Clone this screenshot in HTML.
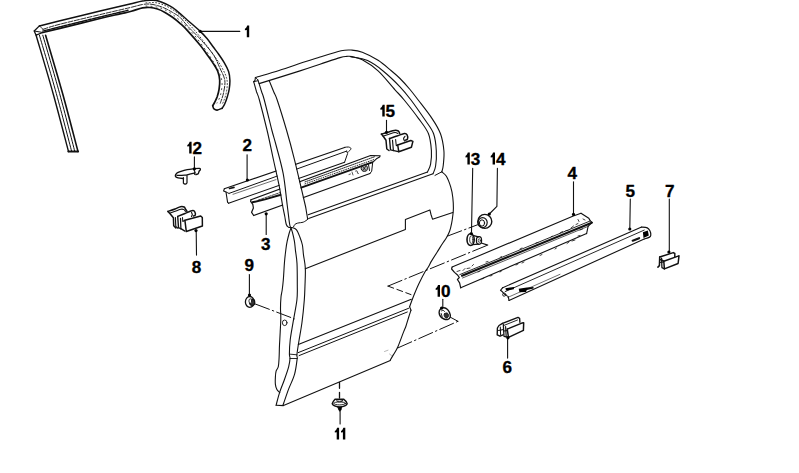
<!DOCTYPE html>
<html><head><meta charset="utf-8"><style>
html,body{margin:0;padding:0;background:#fff;width:799px;height:473px;overflow:hidden}
svg{position:absolute;left:0;top:0}
</style></head><body>
<svg width="799" height="473" viewBox="0 0 799 473">
<defs><mask id="pm" maskUnits="userSpaceOnUse" x="0" y="0" width="799" height="473"><rect x="0" y="0" width="799" height="473" fill="#fff"/><path d="M260.0,100.0 L267.6,130.0 L274.1,160.0 L279.6,185.0 L283.1,205.0 L285.3,216.0 L286.9,224.5 L307.1,219.3 L305.7,211.0 L304.6,205.0 L299.9,185.0 L293.8,159.3 L285.9,130.0 L276.6,100.0Z" fill="#000"/></mask></defs>
<g stroke="#111" stroke-linecap="round" stroke-linejoin="round" fill="none">
<path d="M39.4,25.9C42.8,25.0 49.9,23.3 60.0,20.8C70.1,18.3 88.3,13.8 100.0,11.0C111.7,8.2 122.9,5.7 130.0,4.0C137.1,2.3 139.2,1.7 142.5,1.1C145.8,0.5 147.8,0.4 150.0,0.3C152.2,0.2 154.1,0.1 156.0,0.4C157.9,0.7 159.2,1.2 161.3,2.0C163.4,2.8 166.3,4.0 168.8,5.4C171.3,6.8 173.2,7.8 176.3,10.3C179.4,12.8 183.6,16.8 187.5,20.2C191.4,23.6 196.4,27.8 199.7,30.9C202.9,33.9 204.8,35.9 207.0,38.5C209.2,41.1 211.2,44.2 213.1,46.8C215.0,49.4 216.7,51.4 218.5,54.0C220.3,56.6 222.5,59.7 224.2,62.6C225.9,65.5 227.6,68.5 228.6,71.5C229.6,74.5 229.8,77.3 229.9,80.3C230.0,83.2 229.6,86.5 229.2,89.2C228.8,92.0 228.0,94.4 227.3,96.8C226.6,99.2 225.7,101.9 224.8,103.8C224.0,105.7 222.6,107.5 222.2,108.2" stroke-width="1.5" fill="none" />
<path d="M42.8,32.5C45.7,31.8 50.5,30.6 60.0,28.3C69.5,26.0 90.0,20.9 100.0,18.5C110.0,16.1 114.8,15.1 120.0,13.9C125.2,12.7 127.6,12.3 131.3,11.3C135.1,10.3 139.4,8.5 142.5,7.9C145.6,7.3 147.5,7.3 150.0,7.5C152.5,7.7 155.0,8.2 157.5,9.0C160.0,9.8 162.5,11.0 165.0,12.4C167.5,13.8 170.0,15.5 172.5,17.3C175.0,19.1 177.5,21.1 180.0,23.3C182.5,25.6 184.3,27.1 187.7,30.8C191.1,34.5 197.2,41.5 200.4,45.5C203.6,49.5 204.9,51.6 207.0,54.5C209.1,57.4 210.9,59.8 212.7,62.6C214.5,65.4 216.6,68.5 217.8,71.5C219.0,74.5 219.5,77.3 219.7,80.3C219.9,83.2 219.5,86.5 219.1,89.2C218.7,92.0 217.9,94.6 217.2,96.8C216.4,99.0 215.3,101.0 214.6,102.5C213.8,104.0 213.0,105.2 212.7,105.7" stroke-width="1.7" fill="none" />
<path d="M43.1,29.3C45.9,28.4 50.5,26.6 60.0,24.2C69.5,21.8 88.3,17.4 100.0,14.6C111.7,11.8 122.9,9.3 130.0,7.6C137.1,5.9 139.2,5.1 142.5,4.5C145.8,3.9 147.5,3.9 150.0,4.1C152.5,4.3 155.0,4.9 157.5,5.6C160.0,6.3 162.5,7.2 165.0,8.3C167.5,9.4 170.0,10.9 172.5,12.4C175.0,13.9 177.5,15.0 180.0,17.3C182.5,19.6 184.3,22.5 187.7,26.2C191.1,29.9 196.2,34.5 200.4,39.2C204.6,43.9 209.9,49.6 213.1,54.4C216.3,59.1 217.8,63.4 219.7,67.7C221.6,72.0 224.2,76.1 224.8,80.3C225.4,84.5 224.2,89.2 223.5,93.0C222.8,96.8 220.8,101.5 220.3,103.2" stroke-width="0.9" fill="none" stroke-dasharray="5,1.5"/>
<path d="M44.0,30.8 L60.0,26.8 L100.0,17.0 L128.0,10.3" stroke-width="1.4" fill="none" stroke-dasharray="2.5,1"/>
<path d="M146.0,6.0C147.9,6.2 153.8,6.3 157.5,7.2C161.2,8.1 164.2,9.3 168.0,11.5C171.8,13.7 175.5,16.4 180.0,20.5C184.5,24.6 190.2,30.2 195.0,36.0C199.8,41.8 205.2,49.3 209.0,55.0C212.8,60.7 215.8,65.5 218.0,70.0C220.2,74.5 221.6,77.8 222.0,82.0C222.4,86.2 221.3,91.5 220.5,95.0C219.7,98.5 217.6,101.7 217.0,103.0" stroke-width="0.8" fill="none" stroke-dasharray="1,4"/>
<path d="M146.0,2.8C147.9,2.8 153.5,2.1 157.5,3.0C161.5,3.9 165.9,5.7 170.0,8.0C174.1,10.3 177.7,13.0 182.0,17.0C186.3,21.0 191.3,26.5 196.0,32.0C200.7,37.5 205.8,44.3 210.0,50.0C214.2,55.7 218.2,61.0 221.0,66.0C223.8,71.0 226.2,75.3 227.0,80.0C227.8,84.7 226.8,90.0 226.0,94.0C225.2,98.0 223.1,102.3 222.5,104.0" stroke-width="0.8" fill="none" stroke-dasharray="1,2.2"/>
<path d="M222.2,108.2C221.4,108.5 218.6,110.0 217.2,110.1C215.8,110.2 214.8,109.6 214.0,108.9C213.2,108.2 212.9,106.2 212.7,105.7" stroke-width="1.6" fill="none" />
<path d="M39.4,25.9 L34.2,31.0 L36.1,35.2 L42.8,32.5" stroke-width="1.3" fill="none" />
<path d="M34.2,31.0 L42.8,32.5" stroke-width="1.0" fill="none" />
<path d="M39.4,25.9 L43.1,29.3 L42.8,32.5" stroke-width="0.8" fill="none" />
<path d="M36.1,35.2C38.9,44.9 47.7,74.1 53.1,93.5C58.5,112.9 65.9,141.8 68.5,151.5" stroke-width="1.4" fill="none" />
<path d="M39.4,35.2C42.2,44.9 51.0,74.1 56.3,93.5C61.7,112.9 69.1,141.8 71.7,151.5" stroke-width="1.0" fill="none" />
<path d="M42.8,35.2C45.6,44.9 54.3,74.1 59.6,93.5C64.9,112.9 72.3,141.8 74.8,151.5" stroke-width="1.0" fill="none" />
<path d="M45.6,35.2C48.4,44.9 57.2,74.1 62.6,93.5C68.0,112.9 75.4,141.8 78.0,151.5" stroke-width="1.6" fill="none" />
<path d="M68.5,151.5 L78.0,151.5" stroke-width="2.2" fill="none" />
<path d="M255.4,77.5C259.3,76.3 270.7,73.1 279.0,70.5C287.3,67.9 298.2,64.0 305.0,61.8C311.8,59.5 314.0,58.9 320.0,57.0C326.0,55.1 335.8,51.9 341.1,50.7C346.4,49.6 348.2,49.8 351.7,50.1C355.2,50.4 357.9,50.6 362.3,52.3C366.7,54.0 373.3,57.3 378.1,60.3C382.9,63.3 387.4,67.5 391.0,70.5C394.6,73.5 396.8,75.3 400.0,78.5C403.2,81.7 406.9,85.8 410.0,89.5C413.1,93.2 414.9,95.7 418.6,100.5C422.3,105.3 428.5,113.0 432.1,118.6C435.8,124.1 438.5,128.5 440.5,133.8C442.5,139.2 443.4,145.5 443.9,150.7C444.4,155.9 443.6,161.5 443.3,165.0C443.0,168.5 442.1,170.7 441.8,171.8" stroke-width="1.1" fill="none" />
<path d="M350.7,56.8C353.5,57.4 362.2,58.2 367.6,60.6C373.1,63.0 378.0,66.8 383.4,71.2C388.8,75.6 395.4,82.0 400.0,86.8C404.6,91.6 406.8,94.4 411.0,100.0C415.2,105.6 421.5,114.7 425.3,120.3C429.1,125.9 431.8,128.7 433.6,133.8C435.4,138.9 436.0,145.3 436.3,150.7C436.6,156.1 436.2,162.2 435.6,166.0C435.1,169.8 433.4,172.5 433.0,173.8" stroke-width="1.1" fill="none" />
<path d="M259.1,83.6C265.9,81.5 289.9,74.1 300.0,70.9C310.1,67.7 313.3,66.4 320.0,64.2C326.7,62.0 335.5,58.9 340.0,57.6C344.5,56.3 345.0,56.6 347.0,56.4C349.0,56.2 349.4,56.0 352.0,56.6C354.6,57.2 357.9,57.4 362.3,59.8C366.7,62.2 372.7,65.9 378.1,70.9C383.6,75.9 390.6,85.0 395.0,89.8C399.4,94.6 400.3,95.2 404.2,100.0C408.1,104.8 414.6,113.0 418.6,118.6C422.7,124.2 426.4,128.5 428.5,133.8C430.6,139.2 431.0,145.6 431.4,150.7C431.8,155.8 431.2,160.6 430.6,164.2C430.0,167.8 428.0,170.7 427.5,172.0" stroke-width="1.1" fill="none" />
<path d="M441.8,171.8 L435.0,175.4" stroke-width="1.0" fill="none" />
<path d="M427.5,172.0 L308.2,214.8" stroke-width="1.1" fill="none" />
<path d="M433.0,173.8 L308.6,218.4" stroke-width="1.1" fill="none" />
<path d="M253.7,81.7C254.2,83.4 255.7,89.0 256.6,92.0C257.6,95.0 257.7,93.7 259.4,100.0C261.1,106.3 264.6,120.0 267.0,130.0C269.4,140.0 271.5,150.8 273.5,160.0C275.5,169.2 277.5,177.5 279.0,185.0C280.5,192.5 281.6,199.8 282.5,205.0C283.4,210.2 284.1,212.8 284.7,216.0C285.3,219.2 285.7,222.6 286.3,224.5C286.9,226.4 287.6,226.7 288.5,227.2C289.4,227.7 290.7,227.2 292.0,227.6C293.3,228.0 295.0,228.2 296.3,229.7C297.6,231.2 298.6,233.8 299.6,236.4C300.6,239.0 301.8,241.9 302.4,245.0C303.0,248.1 303.0,251.2 303.5,255.0C304.0,258.8 305.1,263.0 305.3,268.0C305.6,273.0 305.2,279.7 305.0,285.0C304.8,290.3 304.8,293.8 304.3,300.0C303.8,306.2 302.9,315.5 302.0,322.2C301.1,328.9 300.0,334.6 299.1,340.0C298.2,345.4 297.2,351.7 296.9,354.8C296.6,357.9 297.6,355.3 297.2,358.5C296.8,361.7 296.0,369.0 294.6,374.1C293.2,379.2 290.6,384.0 288.7,388.9C286.8,393.8 284.5,401.0 283.5,403.7C282.5,406.4 282.9,405.0 282.8,405.3" stroke-width="1.1" fill="none" />
<path d="M257.9,79.9C258.1,80.5 258.5,81.6 259.1,83.6C259.7,85.6 260.8,89.3 261.7,92.0C262.6,94.7 262.6,93.7 264.3,100.0C266.0,106.3 269.9,122.5 271.8,130.0C273.8,137.5 274.1,137.7 276.0,145.0C277.9,152.3 281.3,163.7 283.2,173.7C285.1,183.7 286.1,196.6 287.2,205.0C288.3,213.4 289.0,220.2 289.6,224.0C290.2,227.8 290.3,226.1 290.8,227.5C291.3,228.9 291.9,230.3 292.5,232.6C293.1,234.9 293.9,238.3 294.4,241.2C294.9,244.1 295.0,246.3 295.4,250.0C295.8,253.7 296.7,257.6 297.0,263.4C297.3,269.2 297.3,278.9 297.3,285.0C297.3,291.1 297.6,293.8 296.9,300.0C296.2,306.2 294.2,315.5 293.1,322.2C292.0,328.9 290.8,334.7 290.2,340.0C289.6,345.3 289.4,351.0 289.4,354.1C289.4,357.2 290.1,356.4 290.0,358.5C289.9,360.6 289.6,363.1 288.7,366.7C287.8,370.3 285.8,375.8 284.3,380.0C282.8,384.2 281.2,387.7 279.8,391.9C278.4,396.1 276.7,403.0 276.1,405.2" stroke-width="1.1" fill="none" />
<path d="M269.2,80.6C270.0,82.5 272.5,88.8 273.8,92.0C275.1,95.2 275.1,93.7 277.2,100.0C279.3,106.3 283.6,120.1 286.5,130.0C289.4,139.9 292.1,150.1 294.4,159.3C296.7,168.5 298.7,177.4 300.5,185.0C302.3,192.6 304.2,200.7 305.2,205.0C306.2,209.3 305.9,208.6 306.3,211.0C306.7,213.4 307.5,217.9 307.7,219.3" stroke-width="1.1" fill="none" />
<path d="M307.7,219.3C307.0,219.8 305.1,221.5 303.4,222.1C301.7,222.7 299.1,222.7 297.7,223.1C296.3,223.5 295.5,223.9 294.8,224.5C294.1,225.1 293.8,226.4 293.6,226.8" stroke-width="1.0" fill="none" />
<path d="M255.4,77.5 L255.0,80.3 L253.7,81.7" stroke-width="1.1" fill="none" />
<path d="M253.7,81.7 L257.5,80.8" stroke-width="1.0" fill="none" />
<path d="M255.4,77.5 L257.9,79.9" stroke-width="0.9" fill="none" />
<path d="M291.0,227.8C290.7,228.8 289.7,231.3 289.1,233.5C288.5,235.7 287.8,238.4 287.2,241.2C286.6,243.9 286.2,246.5 285.8,250.0C285.4,253.5 284.9,257.0 284.5,262.0C284.1,267.0 283.7,275.3 283.3,280.0C282.9,284.7 282.6,287.2 282.2,290.0C281.8,292.8 281.3,293.9 281.0,297.0C280.7,300.1 280.5,305.3 280.5,308.8C280.5,312.3 280.9,314.1 280.8,318.0C280.8,321.9 280.4,327.5 280.2,332.0C280.0,336.5 279.7,340.7 279.5,345.0C279.3,349.3 279.3,354.2 279.1,357.8C278.9,361.4 278.8,364.5 278.3,366.7C277.8,368.9 276.6,369.4 276.1,371.1C275.6,372.8 275.5,374.8 275.4,377.0C275.3,379.2 275.1,382.3 275.4,384.4C275.6,386.5 276.2,388.2 276.9,389.6C277.6,391.0 279.3,392.1 279.8,392.6" stroke-width="1.1" fill="none" />
<path d="M276.1,405.2 L283.5,405.6 L390.3,360.4" stroke-width="1.1" fill="none" />
<path d="M441.8,171.8C442.6,172.6 444.9,173.8 446.4,176.3C447.9,178.8 449.6,183.4 450.7,186.9C451.8,190.4 452.4,194.0 452.8,197.5C453.2,201.0 453.4,205.0 453.4,208.0C453.4,211.0 453.1,213.0 452.8,215.5C452.5,218.0 452.2,220.3 451.7,222.9C451.2,225.5 450.5,228.8 449.6,231.3C448.7,233.8 447.6,235.6 446.4,237.7C445.2,239.8 443.8,241.5 442.2,244.0C440.6,246.5 438.7,249.7 436.9,252.5C435.1,255.3 433.1,258.4 431.6,260.9C430.1,263.4 429.1,265.7 428.0,267.5C426.9,269.3 426.7,268.9 425.2,271.5C423.7,274.1 421.0,279.3 419.1,283.2C417.2,287.1 415.6,291.1 414.0,295.0C412.4,298.9 410.3,304.8 409.6,306.8" stroke-width="1.1" fill="none" />
<path d="M409.6,306.8 L411.0,310.2" stroke-width="1.1" fill="none" />
<path d="M411.0,310.2C410.6,311.4 409.4,314.9 408.6,317.5C407.8,320.1 406.8,323.6 406.0,326.0C405.2,328.4 405.1,328.2 403.7,331.6C402.3,335.1 399.6,342.8 397.9,346.7C396.2,350.6 394.6,352.7 393.3,354.9C392.0,357.1 390.8,359.2 390.3,360.1" stroke-width="1.1" fill="none" />
<path d="M305.3,268.7 L405.4,229.4 L405.4,219.4 L429.9,209.9 L431.0,214.5 L432.5,219.2 L452.8,212.5" stroke-width="1.1" fill="none" />
<path d="M298.3,344.4 L411.3,299.2" stroke-width="1.1" fill="none" />
<path d="M298.3,352.6 L408.6,308.3" stroke-width="1.0" fill="none" />
<path d="M299.1,355.6 L407.3,312.0" stroke-width="1.0" fill="none" />
<path d="M289.4,354.1 L296.9,354.8" stroke-width="0.9" fill="none" />
<path d="M290.0,358.5 L297.2,358.5" stroke-width="0.9" fill="none" />
<ellipse cx="284.7" cy="322.8" rx="2.3" ry="2.8" stroke-width="0.9"/>
<path d="M244.90,28.70 C246.10,28.00 246.80,27.00 247.20,25.40 L249.20,25.40 L249.20,37.20 L246.80,37.20 L246.80,30.00 L244.90,30.30 Z" fill="#000" stroke="none"/>
<text transform="translate(242.50,151.00) scale(1.07,1)" stroke="#000" stroke-width="0.3" fill="#000" font-family="Liberation Sans" font-weight="bold" font-size="16">2</text>
<text transform="translate(261.00,249.90) scale(1.07,1)" stroke="#000" stroke-width="0.3" fill="#000" font-family="Liberation Sans" font-weight="bold" font-size="16">3</text>
<text transform="translate(567.60,178.80) scale(1.07,1)" stroke="#000" stroke-width="0.3" fill="#000" font-family="Liberation Sans" font-weight="bold" font-size="16">4</text>
<text transform="translate(625.60,196.60) scale(1.07,1)" stroke="#000" stroke-width="0.3" fill="#000" font-family="Liberation Sans" font-weight="bold" font-size="16">5</text>
<text transform="translate(502.60,373.40) scale(1.07,1)" stroke="#000" stroke-width="0.3" fill="#000" font-family="Liberation Sans" font-weight="bold" font-size="16">6</text>
<text transform="translate(664.90,196.60) scale(1.07,1)" stroke="#000" stroke-width="0.3" fill="#000" font-family="Liberation Sans" font-weight="bold" font-size="16">7</text>
<text transform="translate(191.80,272.60) scale(1.07,1)" stroke="#000" stroke-width="0.3" fill="#000" font-family="Liberation Sans" font-weight="bold" font-size="16">8</text>
<text transform="translate(244.60,271.20) scale(1.07,1)" stroke="#000" stroke-width="0.3" fill="#000" font-family="Liberation Sans" font-weight="bold" font-size="16">9</text>
<path d="M435.70,288.30 C436.90,287.60 437.60,286.60 438.00,285.00 L440.00,285.00 L440.00,296.80 L437.60,296.80 L437.60,289.60 L435.70,289.90 Z" fill="#000" stroke="none"/>
<text transform="translate(440.90,297.20) scale(1.07,1)" stroke="#000" stroke-width="0.3" fill="#000" font-family="Liberation Sans" font-weight="bold" font-size="16">0</text>
<path d="M334.80,431.00 C336.00,430.30 336.70,429.30 337.10,427.70 L339.10,427.70 L339.10,439.50 L336.70,439.50 L336.70,432.30 L334.80,432.60 Z" fill="#000" stroke="none"/>
<path d="M341.00,431.00 C342.20,430.30 342.90,429.30 343.30,427.70 L345.30,427.70 L345.30,439.50 L342.90,439.50 L342.90,432.30 L341.00,432.60 Z" fill="#000" stroke="none"/>
<path d="M187.30,145.00 C188.50,144.30 189.20,143.30 189.60,141.70 L191.60,141.70 L191.60,153.50 L189.20,153.50 L189.20,146.30 L187.30,146.60 Z" fill="#000" stroke="none"/>
<text transform="translate(192.50,153.90) scale(1.07,1)" stroke="#000" stroke-width="0.3" fill="#000" font-family="Liberation Sans" font-weight="bold" font-size="16">2</text>
<path d="M465.50,155.90 C466.70,155.20 467.40,154.20 467.80,152.60 L469.80,152.60 L469.80,164.40 L467.40,164.40 L467.40,157.20 L465.50,157.50 Z" fill="#000" stroke="none"/>
<text transform="translate(470.70,164.80) scale(1.07,1)" stroke="#000" stroke-width="0.3" fill="#000" font-family="Liberation Sans" font-weight="bold" font-size="16">3</text>
<path d="M490.70,155.90 C491.90,155.20 492.60,154.20 493.00,152.60 L495.00,152.60 L495.00,164.40 L492.60,164.40 L492.60,157.20 L490.70,157.50 Z" fill="#000" stroke="none"/>
<text transform="translate(495.90,164.80) scale(1.07,1)" stroke="#000" stroke-width="0.3" fill="#000" font-family="Liberation Sans" font-weight="bold" font-size="16">4</text>
<path d="M380.40,108.10 C381.60,107.40 382.30,106.40 382.70,104.80 L384.70,104.80 L384.70,116.60 L382.30,116.60 L382.30,109.40 L380.40,109.70 Z" fill="#000" stroke="none"/>
<text transform="translate(385.60,117.00) scale(1.07,1)" stroke="#000" stroke-width="0.3" fill="#000" font-family="Liberation Sans" font-weight="bold" font-size="16">5</text>
<path d="M199.3,31.4 L239.8,31.4" stroke-width="1.1" fill="none" />
<path d="M247.1,154.7 L247.1,180.2" stroke-width="1.1" fill="none" />
<path d="M266.2,213.5 L266.2,234.5" stroke-width="1.1" fill="none" />
<path d="M573.5,181.7 L573.5,214.3" stroke-width="1.1" fill="none" />
<path d="M630.3,199.0 L629.8,229.3" stroke-width="1.1" fill="none" />
<path d="M507.6,337.1 L507.6,358.1" stroke-width="1.1" fill="none" />
<path d="M669.3,199.0 L669.3,251.4" stroke-width="1.1" fill="none" />
<path d="M196.2,230.9 L196.5,255.1" stroke-width="1.1" fill="none" />
<path d="M249.4,274.5 L249.4,295.5" stroke-width="1.1" fill="none" />
<path d="M442.8,299.2 L442.8,308.1" stroke-width="1.1" fill="none" />
<path d="M340.1,408.9 L340.1,424.0" stroke-width="1.1" fill="none" />
<path d="M194.4,156.9 L194.4,168.6" stroke-width="1.1" fill="none" />
<path d="M472.7,168.2 L471.5,231.8" stroke-width="1.1" fill="none" />
<path d="M497.4,168.2 L496.9,206.4 L489.3,214.0" stroke-width="1.1" fill="none" />
<path d="M386.5,120.4 L386.5,132.1" stroke-width="1.1" fill="none" />
<g mask="url(#pm)">
<path d="M224.3,188.8 L344.6,147.4" stroke-width="1.1" fill="none" />
<path d="M229.0,193.4 L346.7,151.1" stroke-width="1.0" fill="none" />
<path d="M233.0,194.3 L276.0,179.6" stroke-width="0.6" fill="none" />
<path d="M228.6,203.2 L344.6,162.2" stroke-width="1.1" fill="none" />
<path d="M224.3,188.8 L223.6,191.0 L226.0,192.0 L226.6,196.0 L227.6,202.3 L228.6,203.2" stroke-width="1.1" fill="none" />
<path d="M226.0,192.0 L229.0,193.4" stroke-width="0.9" fill="none" />
<path d="M229.5,188.5 L234.0,187.4" stroke-width="1.6" fill="none" />
<path d="M344.6,147.4C345.2,147.3 347.4,146.8 348.5,147.0C349.6,147.2 351.1,147.9 351.0,148.8C350.9,149.7 348.5,151.6 348.0,152.2" stroke-width="1.0" fill="none" />
<path d="M346.7,151.1 L347.6,153.5 L344.6,162.2" stroke-width="1.0" fill="none" />
<path d="M251.0,199.7 L370.6,155.6 L380.2,155.8 L379.6,157.1 L376.4,158.8 L372.4,162.6" stroke-width="1.1" fill="none" />
<path d="M252.5,202.3 L265.0,199.4 L280.0,195.0 L304.0,186.6 L372.1,162.4" stroke-width="2.0" fill="none" />
<path d="M258.0,200.2 L280.0,192.6" stroke-width="0.8" fill="none" stroke-dasharray="2.5,1.2"/>
<path d="M305.0,181.9 L375.0,156.6" stroke-width="0.9" fill="none" stroke-dasharray="1.2,1"/>
<path d="M305.0,183.9 L375.0,159.2" stroke-width="0.9" fill="none" stroke-dasharray="0.8,1.6"/>
<path d="M253.7,215.5 L370.0,173.4" stroke-width="1.1" fill="none" />
<path d="M372.6,163.2 L371.7,171.2 L370.0,173.4" stroke-width="1.0" fill="none" />
<path d="M251.0,199.7 L250.6,201.3 L252.8,204.3 L253.4,208.0 L251.6,212.3 L253.7,215.5" stroke-width="1.2" fill="none" />
<path d="M349,174.5 l1.5,-0.5 M352,172 l1,3 M355.5,171 q2,-1 2,1 q-1,1.5 1,1.5" stroke-width="0.7" fill="none" />
<path d="M362.0,166.5C362.7,165.9 364.6,165.0 365.5,165.2C366.4,165.4 367.3,166.6 367.5,167.5C367.7,168.4 367.2,170.2 366.5,170.8C365.8,171.4 363.9,171.5 363.0,171.2C362.1,170.9 361.4,169.8 361.2,169.0C361.0,168.2 361.3,167.1 362.0,166.5Z" stroke-width="1.0" fill="#aaa" />
<path d="M363,166.5 l2.5,3.5 M366,166 l-3,4" stroke-width="0.8" fill="none" />
<path d="M368.5,164.5 L369.5,170.5" stroke-width="1.0" fill="none" />
</g>
<path d="M452.1,267.1 L573.3,216.0 L581.0,213.3" stroke-width="1.1" fill="none" />
<path d="M581.0,213.3 L588.8,218.3 L590.3,220.9 L592.2,222.4" stroke-width="1.2" fill="none" />
<path d="M459.8,274.6 L590.3,220.9" stroke-width="0.9" fill="none" />
<path d="M462.0,275.8 L591.8,222.7" stroke-width="2.0" fill="none" />
<path d="M462.5,278.0 L588.5,226.2" stroke-width="0.7" fill="none" />
<path d="M460.7,287.8 L586.6,233.6" stroke-width="1.1" fill="none" />
<path d="M591.8,222.7 L588.1,226.4 L586.6,233.6" stroke-width="1.1" fill="none" />
<path d="M452.1,267.1 L451.6,269.0 L454.5,272.4 L457.8,275.2 L459.3,277.6 L457.4,279.5 L459.6,282.8 L460.7,287.8" stroke-width="1.2" fill="none" />
<path d="M457,271.5 l3,-1 M463,270.5 l2,-2 M467,268.5 l3,-0.5 M472,266 l1.5,-1.5 M478,272 l2,-1 M486,262 l2,-0.5 M500,257.5 l1.5,-1 M520,249 l2,-1 M536,243 l2,-0.5 M551,237 l1,-1 M560,233 l2.5,-1.5 M566,230.5 l2,0 M571,228 l2.5,-2 M576,224.5 l2,-1 M578,219.5 l1,2 M583,219 l2,1" stroke-width="0.8" fill="none" />
<path d="M482,279 l2,-1 M490,276 l2,-0.5 M500,272 l1.5,-1 M516,265 l2,-1 M522,263 l2,-1 M540,255.5 l2,-1 M555,249 l1.5,-1 M567,243.5 l2,-1.5 M572,241 l3,-1 M578,236 l2,-0.5 M580,230 l2.5,-1" stroke-width="0.8" fill="none" />
<path d="M502.7,287.7 L641.6,227.1" stroke-width="1.1" fill="none" />
<path d="M641.6,227.1C642.5,227.2 645.9,227.3 647.3,227.9C648.7,228.5 649.3,229.6 649.9,230.8C650.5,232.0 650.9,234.1 650.8,235.2C650.7,236.2 650.6,236.5 649.5,237.1C648.4,237.7 645.1,238.7 644.2,239.0" stroke-width="1.2" fill="none" />
<path d="M505.2,291.6 L644.2,230.1" stroke-width="0.9" fill="none" />
<path d="M509.0,300.4 L644.2,239.0" stroke-width="1.1" fill="none" />
<path d="M507.8,297.4 L560.0,274.3" stroke-width="0.6" fill="none" />
<path d="M502.7,287.7 L500.5,290.3 L502.4,291.8 L504.6,294.4 L508.3,296.6 L509.0,300.4" stroke-width="1.1" fill="none" />
<circle cx="504.2" cy="294.6" r="1.6" stroke-width="0.9"/>
<path d="M505.4,288.2 L514.2,287 L513.8,289.2 L506,290.6 Z" fill="#000" stroke="none"/>
<path d="M518.7,288.8 L526.8,287.4 L533.5,287.0 L533.5,288.5 L526.8,290 L526,292 L519.5,292.2 Z" fill="#000" stroke="none"/>
<path d="M642.9,232.2 L647.8,230.6 L648.8,235.5 L643.5,237.9 Z" fill="#000" stroke="none"/>
<path d="M632.7,240.7 L639.1,238.2" stroke-width="2.2" fill="none" />
<path d="M175.5,175.2C175.8,174.8 176.1,173.7 177.0,173.0C177.9,172.3 179.3,171.9 181.0,171.3C182.7,170.7 185.1,170.0 187.2,169.6C189.2,169.2 191.3,169.0 193.3,168.8C195.3,168.6 198.2,168.2 199.4,168.4C200.6,168.6 200.4,169.3 200.3,169.8C200.2,170.3 199.3,170.8 199.0,171.5C198.7,172.2 198.7,173.3 198.2,173.8C197.7,174.3 196.2,174.5 195.8,174.6" stroke-width="1.38" fill="none" />
<path d="M175.5,175.2C175.5,175.5 175.3,176.4 175.7,176.8C176.1,177.2 176.8,177.6 178.1,177.9C179.4,178.2 182.6,178.5 183.5,178.6" stroke-width="1.38" fill="none" />
<path d="M177.1,175.4C178.4,175.4 182.6,175.4 184.7,175.2C186.8,175.0 187.9,174.5 189.7,174.1C191.5,173.7 194.4,173.1 195.3,172.9" stroke-width="1.26" fill="none" />
<path d="M183.4,177.5 L183.4,183.2 Q185.2,185.4 187,182.8 L187,175.7" stroke-width="1.2" fill="none" />
<path d="M193.5,169.0 L194.8,171.5 L194.5,174.3" stroke-width="1.15" fill="none" />
<path d="M381.4,134.1C382.5,133.8 385.9,132.8 388.0,132.2C390.1,131.6 392.6,130.6 394.3,130.4C396.0,130.2 397.4,130.5 398.3,131.0C399.2,131.5 399.5,133.1 399.7,133.5" stroke-width="1.49" fill="none" />
<path d="M383.0,136.2C384.0,135.9 387.0,134.8 389.0,134.2C391.0,133.6 393.5,132.7 395.0,132.6C396.5,132.5 397.5,133.3 398.0,133.4" stroke-width="1.03" fill="none" />
<path d="M381.4,134.1 L383.4,136.5 L386.0,140.2 L386.8,149.0 L389.0,150.5" stroke-width="1.49" fill="none" />
<path d="M389.5,138.5C390.8,138.1 394.5,136.8 397.0,136.0C399.5,135.2 402.7,133.7 404.4,133.5C406.1,133.3 406.6,133.9 407.1,134.8C407.6,135.7 407.8,138.0 407.5,138.9C407.2,139.8 405.8,140.0 405.5,140.2" stroke-width="1.49" fill="none" />
<path d="M405.0,136.3C404.8,136.7 403.7,137.7 403.6,138.5C403.5,139.3 404.4,140.6 404.6,141.0" stroke-width="1.15" fill="none" />
<path d="M389.5,138.5 L390.5,149.8 L398.3,151.7" stroke-width="1.38" fill="none" />
<path d="M397.7,145.0 L410.8,140.5 L412.9,141.4 L411.4,147.3 L398.8,151.8 L397.7,145.0" stroke-width="1.49" fill="none" />
<path d="M392.5,140.2 L393.4,150.6" stroke-width="1.15" fill="none" />
<path d="M395.6,139.4 L396.3,145.8 L397.7,145.0" stroke-width="1.03" fill="none" />
<path d="M168.0,211.4C169.2,211.0 172.9,209.8 175.0,209.0C177.1,208.2 179.0,207.0 180.5,206.7C182.0,206.4 183.2,206.6 184.1,207.0C184.9,207.4 185.1,208.5 185.6,209.2C186.1,209.9 186.8,211.0 187.0,211.4" stroke-width="1.49" fill="none" />
<path d="M169.5,213.3C170.6,212.9 174.1,211.7 176.0,211.0C177.9,210.3 179.7,209.4 181.0,209.2C182.3,209.0 183.2,209.2 184.0,209.6C184.8,210.0 185.2,211.2 185.5,211.5" stroke-width="1.03" fill="none" />
<path d="M168.0,211.4 L170.5,214.2 L173.4,217.8 L173.7,225.7 L175.9,227.9" stroke-width="1.49" fill="none" />
<path d="M175.4,217.5 L175.8,226.5 L178.0,228.3" stroke-width="1.15" fill="none" />
<path d="M177.7,216.4C178.9,215.9 182.5,214.5 185.0,213.5C187.5,212.5 191.2,210.8 192.8,210.6C194.5,210.4 194.5,211.4 194.9,212.1C195.3,212.8 195.5,214.3 195.3,215.0C195.1,215.7 193.8,215.8 193.5,216.0" stroke-width="1.49" fill="none" />
<path d="M191.5,212.5C191.6,212.8 192.3,213.8 192.3,214.5C192.3,215.2 191.6,216.2 191.5,216.5" stroke-width="1.15" fill="none" />
<path d="M177.7,216.4 L178.5,227.5 L181.0,229.0" stroke-width="1.38" fill="none" />
<path d="M184.9,220.3 L200.7,216.0 L202.3,217.5 L202.4,226.0 L186.3,231.5 L184.9,220.3" stroke-width="1.49" fill="none" />
<path d="M180.5,218.5 L180.9,228.6 L184.9,231.1" stroke-width="1.26" fill="none" />
<path d="M182.5,217.5 L182.8,221.5 L184.9,220.3" stroke-width="1.03" fill="none" />
<ellipse cx="249.8" cy="301.9" rx="4.4" ry="5.4" stroke-width="1.3"/>
<ellipse cx="252.2" cy="302.3" rx="2.6" ry="3.2" stroke-width="1.2" fill="#333"/>
<ellipse cx="250.3" cy="301.0" rx="1.4" ry="2.2" stroke-width="0.8" fill="#fff"/>
<path d="M440.5,309.0C441.3,308.2 442.8,307.7 444.0,307.8C445.2,307.9 446.6,308.7 447.5,309.5C448.4,310.3 449.0,311.3 449.5,312.5C450.0,313.7 450.6,315.4 450.3,316.5C450.1,317.6 449.1,318.9 448.0,319.3C446.9,319.7 445.2,319.5 444.0,319.0C442.8,318.5 441.3,317.6 440.5,316.5C439.7,315.4 439.1,313.8 439.1,312.5C439.1,311.2 439.7,309.8 440.5,309.0Z" stroke-width="1.38" fill="none" />
<path d="M444.6,313.6C445.1,313.2 446.5,312.7 447.2,313.0C447.9,313.3 448.6,314.6 448.6,315.4C448.6,316.2 448.0,317.4 447.4,317.8C446.8,318.2 445.7,318.0 445.2,317.6C444.7,317.2 444.3,316.3 444.2,315.6C444.1,314.9 444.1,314.0 444.6,313.6Z" stroke-width="0.9" fill="#333" />
<path d="M441.5,311.0C441.8,310.9 442.5,310.1 443.0,310.2C443.5,310.3 444.2,311.3 444.5,311.5" stroke-width="0.92" fill="none" />
<path d="M441.2,313.5 L442.2,317.0" stroke-width="0.92" fill="none" />
<path d="M335,399.2 L343.6,399.2 Q346.2,401 347.2,403.8 Q346,406.6 339.7,406.9 Q333.4,406.6 332.2,403.8 Q333.2,401 335,399.2 Z" stroke-width="1.4" fill="none" />
<ellipse cx="339.7" cy="403.4" rx="5.8" ry="1.5" stroke-width="0.9"/>
<ellipse cx="339.6" cy="400.8" rx="3.0" ry="1.1" stroke-width="0.9"/>
<path d="M337.6,406.7 L339.7,411.0 L341.8,406.7" stroke-width="1.1" fill="#000" />
<ellipse cx="470.6" cy="239.6" rx="3.6" ry="5.9" stroke-width="1.6"/>
<ellipse cx="471.3" cy="239.6" rx="1.7" ry="3.9" stroke-width="0.8"/>
<path d="M472.8,235.4 L478.5,236.8" stroke-width="1.26" fill="none" />
<path d="M472.8,244.6 L478.5,244.2" stroke-width="1.26" fill="none" />
<ellipse cx="479.0" cy="240.5" rx="2.6" ry="3.8" stroke-width="1.2"/>
<ellipse cx="479.3" cy="240.6" rx="1.1" ry="1.9" stroke-width="0.7"/>
<path d="M481.3,243.0 L487.7,245.1" stroke-width="1.15" fill="none" />
<ellipse cx="484.8" cy="221.4" rx="7" ry="7" stroke-width="1.4"/>
<ellipse cx="482.6" cy="222.6" rx="4.6" ry="5" stroke-width="1.2"/>
<ellipse cx="482.0" cy="223" rx="2.6" ry="3.2" stroke-width="1"/>
<path d="M502.5,323.4 L518.0,317.4 L519.6,318.3 L519.9,322.2" stroke-width="1.38" fill="none" />
<path d="M503.5,325.6 L517.5,320.0" stroke-width="0.92" fill="none" />
<path d="M507.2,329.1 L521.8,323.1 L523.7,322.8 L523.4,330.4 L508.5,337.4 L507.2,329.1" stroke-width="1.49" fill="none" />
<path d="M502.5,323.4 L499.0,325.5 L497.4,328.0 L497.2,334.8 L500.0,336.2 L503.0,334.8" stroke-width="1.38" fill="none" />
<path d="M503.3,324.3 L504.0,336.3 L508.5,337.4" stroke-width="1.26" fill="none" />
<path d="M505.6,326.5 L506.2,336.8" stroke-width="1.15" fill="none" />
<path d="M500.3,327.0 L500.6,334.8" stroke-width="1.03" fill="none" />
<path d="M498.5,330.5 L503.5,329.5" stroke-width="1.03" fill="none" />
<path d="M504.0,331.0 L507.5,330.5" stroke-width="1.03" fill="none" />
<path d="M659.7,257.0 L673.3,252.6 L674.8,253.5 L674.8,256.7" stroke-width="1.49" fill="none" />
<path d="M663.8,261.2 L678.1,256.1 L679.0,255.8 L678.1,263.5 L664.4,268.9 L663.8,261.2" stroke-width="1.49" fill="none" />
<path d="M659.7,257.0 L659.4,265.6 L657.9,267.1" stroke-width="1.49" fill="none" />
<path d="M661.6,258.2 L661.9,267.6 L664.4,268.9" stroke-width="1.26" fill="none" />
<path d="M660.5,259.5 L663.8,261.2" stroke-width="1.61" fill="none" />
<path d="M659.6,262.5 L663.5,262.0" stroke-width="1.03" fill="none" />
<circle cx="200.2" cy="31.3" r="1.6" fill="#000" stroke="none"/>
<circle cx="247.4" cy="180" r="1.6" fill="#000" stroke="none"/>
<circle cx="266.2" cy="213.8" r="1.6" fill="#000" stroke="none"/>
<circle cx="573.5" cy="214.4" r="1.6" fill="#000" stroke="none"/>
<circle cx="629.8" cy="229" r="1.6" fill="#000" stroke="none"/>
<circle cx="507.9" cy="337.8" r="1.6" fill="#000" stroke="none"/>
<circle cx="668.9" cy="252" r="1.6" fill="#000" stroke="none"/>
<circle cx="196" cy="230.6" r="1.6" fill="#000" stroke="none"/>
<circle cx="249.5" cy="295" r="1.6" fill="#000" stroke="none"/>
<circle cx="441.6" cy="308.1" r="1.6" fill="#000" stroke="none"/>
<circle cx="471.3" cy="233.5" r="1.6" fill="#000" stroke="none"/>
<circle cx="489.3" cy="214" r="1.6" fill="#000" stroke="none"/>
<circle cx="386.5" cy="132.3" r="1.6" fill="#000" stroke="none"/>
<circle cx="194.4" cy="168.8" r="1.6" fill="#000" stroke="none"/>
<circle cx="340.1" cy="409" r="1.6" fill="#000" stroke="none"/>
<path d="M447.5,236.1 L478.0,224.6" stroke-width="1.0" fill="none" stroke-dasharray="15,3.2,1.5,3.2"/>
<path d="M388.0,286.1 L487.7,245.1" stroke-width="1.0" fill="none" stroke-dasharray="15,3.2,1.5,3.2"/>
<path d="M388.0,286.1 L411.0,294.6" stroke-width="1.0" fill="none" stroke-dasharray="6,3.5"/>
<path d="M397.9,347.9 L458.0,321.3" stroke-width="1.0" fill="none" stroke-dasharray="15,3.2,1.5,3.2"/>
<path d="M384.5,351.5 L388.0,350.2" stroke-width="0.6" fill="none" stroke-opacity="0.5"/>
<path d="M389.5,354.0 L391.5,355.5" stroke-width="0.6" fill="none" stroke-opacity="0.5"/>
<path d="M458.0,321.3 L450.3,317.2" stroke-width="1.0" fill="none" />
<path d="M255.3,304.0 L294.3,318.8" stroke-width="1.0" fill="none" stroke-dasharray="15,3.2,1.5,3.2"/>
<path d="M339.5,382.3 L339.5,398.0" stroke-width="1.3" fill="none" stroke-dasharray="6,4"/>
</g>
</svg>


</body></html>
